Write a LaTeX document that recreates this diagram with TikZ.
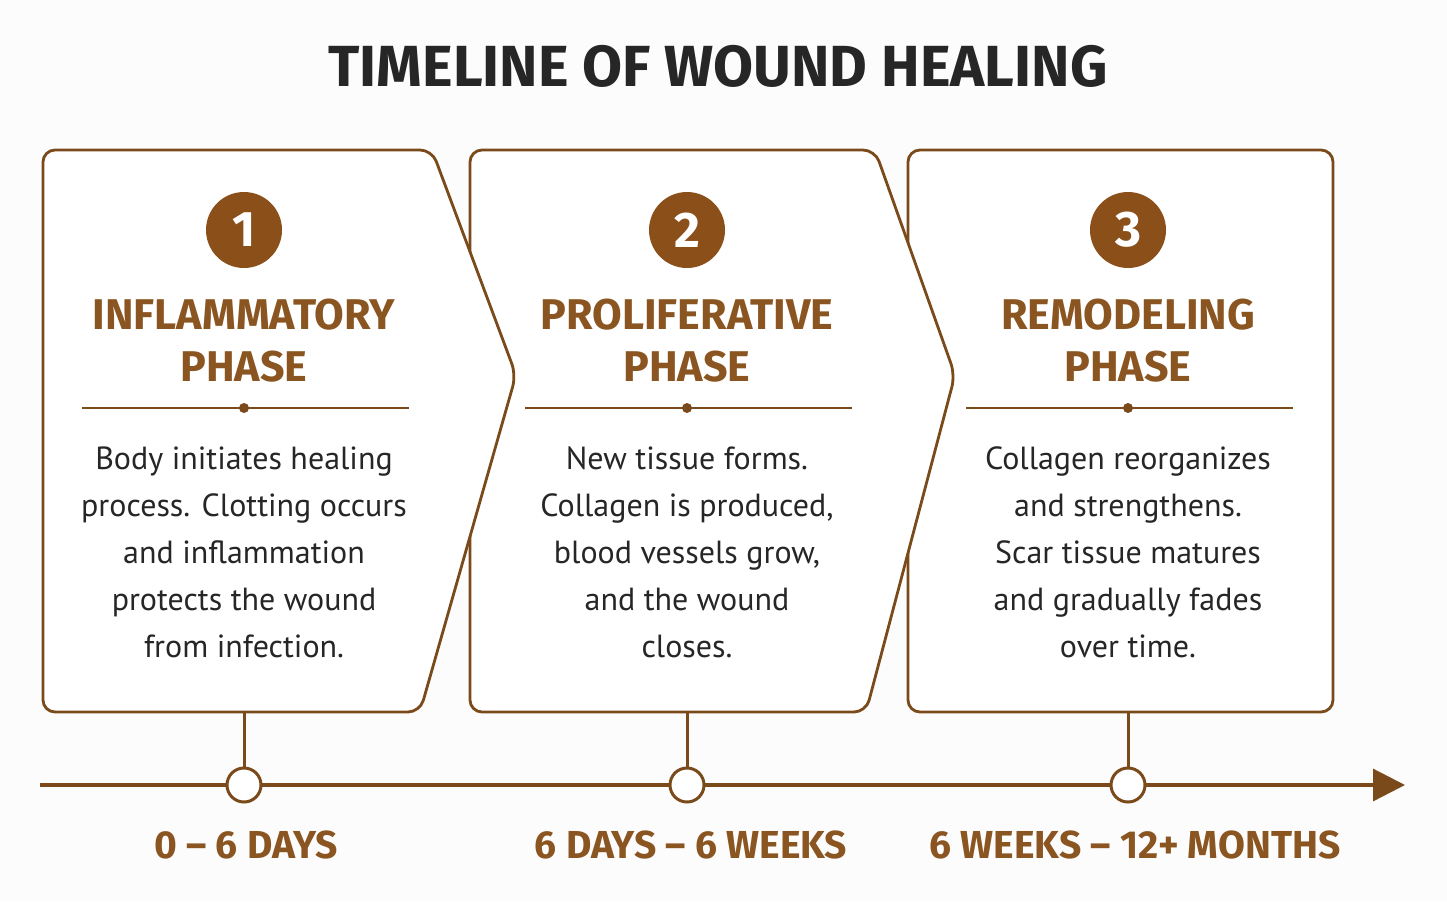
\documentclass[tikz,border=0pt]{standalone}
\usepackage{fontspec}
\setmainfont{PT Sans}
\newfontfamily\headfont{Fira Sans}
\usetikzlibrary{positioning, arrows.meta}
\definecolor{woodline}{HTML}{7A4A1A}
\definecolor{woodfill}{HTML}{8B4F1A}
\definecolor{woodtext}{HTML}{8A5520}
\tikzset{
  phasebox/.style={draw=woodline, line width=2.8pt, fill=white, rounded corners=12pt},
  numdot/.style={circle, fill=woodfill, minimum size=76pt, inner sep=0pt, text=white,
    font=\headfont\bfseries\fontsize{50}{50}\selectfont},
  phasetitle/.style={text=woodtext, align=center, inner sep=0pt,
    font=\headfont\bfseries\fontsize{43}{52}\selectfont},
  bodytext/.style={align=center, inner sep=0pt, text=black!85,
    font=\fontsize{32}{47}\selectfont},
  datelabel/.style={text=woodtext, inner sep=0pt,
    font=\headfont\bfseries\fontsize{39}{39}\selectfont},
  tick/.style={circle, draw=woodline, line width=3pt, fill=white, minimum size=34pt, inner sep=0pt}
}
\begin{document}
\begin{tikzpicture}[x=1pt, y=-1pt]
\fill[black!1] (0,0) rectangle (1447,902);
\useasboundingbox (0,0) rectangle (1447,902);

% heading
\node[font=\headfont\bfseries\fontsize{58}{58}\selectfont, text=black!85] (title) at (718,66) {TIMELINE OF WOUND HEALING};

% the three phase cards, back to front
\draw[phasebox] (908,150) rectangle (1333,712);
\draw[phasebox] (470,712) -- (470,150) -- (875,150) -- (955,375) -- (866,712) -- cycle;
\draw[phasebox] (43,712) -- (43,150) -- (432,150) -- (516,375) -- (420,712) -- cycle;

% timeline
\coordinate (tstart) at (40,785);
\coordinate (tend) at (1405,785);
\draw[woodline, line width=3.2pt, -{Triangle[length=32pt, width=32pt]}] (tstart) -- (tend);

\foreach \cx/\num/\head/\body/\when/\wx in {
  244/1/{INFLAMMATORY\\PHASE}/{Body initiates healing\\process. Clotting occurs\\and inflammation\\protects the wound\\from infection.}/{0 – 6 DAYS}/246,
  687/2/{PROLIFERATIVE\\PHASE}/{New tissue forms.\\Collagen is produced,\\blood vessels grow,\\and the wound\\closes.}/{6 DAYS – 6 WEEKS}/691,
  1128/3/{REMODELING\\PHASE}/{Collagen reorganizes\\and strengthens.\\Scar tissue matures\\and gradually fades\\over time.}/{6 WEEKS – 12+ MONTHS}/1135}{
  \node[numdot] (num\num) at (\cx,230) {\num};
  \node[phasetitle] (head\num) at (\cx,341) {\head};
  \coordinate (rulel\num) at (\cx-162,408);
  \coordinate (ruler\num) at (\cx+165,408);
  \draw[woodline, line width=2pt] (rulel\num) -- (ruler\num);
  \fill[woodline] (\cx,408) circle (5pt);
  \node[bodytext] (body\num) at (\cx,552) {\body};
  \coordinate (stem\num) at (\cx,712);
  \node[tick] (tick\num) at (\cx,785) {};
  \draw[woodline, line width=3pt] (stem\num) -- (tick\num);
  \node[datelabel] (when\num) at (\wx,845) {\when};
}
\end{tikzpicture}
\end{document}
